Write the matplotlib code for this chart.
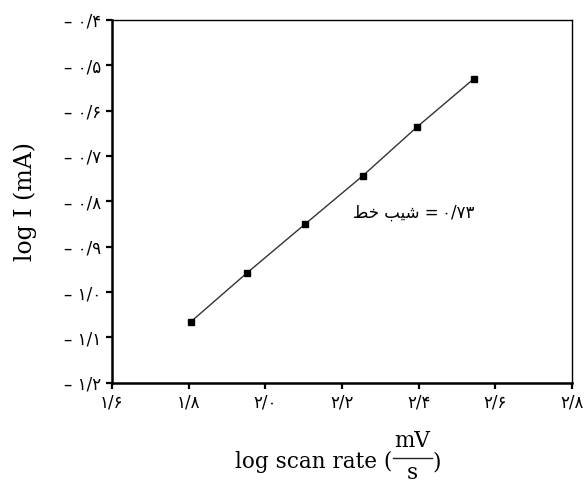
import matplotlib
matplotlib.use("Agg")
import matplotlib.pyplot as plt
from matplotlib.lines import Line2D
from matplotlib.ticker import FixedLocator, FuncFormatter

# log scan rate vs log peak current
log_rate = [1.805, 1.952, 2.104, 2.254, 2.396, 2.544]
log_i = [-1.066, -0.958, -0.850, -0.744, -0.636, -0.530]
slope = 0.73

x_ticks = [1.6, 1.8, 2.0, 2.2, 2.4, 2.6, 2.8]
y_ticks = [-0.4, -0.5, -0.6, -0.7, -0.8, -0.9, -1.0, -1.1, -1.2]

FA_DIGITS = str.maketrans('0123456789', '۰۱۲۳۴۵۶۷۸۹')
W, H = 586, 484


def fa(v, nd=1):
    s = f"{abs(v):.{nd}f}".replace('.', '/').translate(FA_DIGITS)
    return ('– ' + s) if v < 0 else s


def px(x, y):
    # pixel position (from top-left) -> figure fraction
    return x / W, 1 - y / H


fig = plt.figure(figsize=(W / 100, H / 100), dpi=100)
ax = fig.add_axes([0.191, 0.209, 0.785, 0.750])

ax.plot(log_rate, log_i, color='#333333', lw=1.0, marker='s', ms=5,
        mfc='black', mec='black')

ax.set_xlim(1.6, 2.8)
ax.set_ylim(-1.2, -0.4)
ax.xaxis.set_major_locator(FixedLocator(x_ticks))
ax.yaxis.set_major_locator(FixedLocator(y_ticks))
ax.xaxis.set_major_formatter(FuncFormatter(lambda v, p: fa(v)))
ax.yaxis.set_major_formatter(FuncFormatter(lambda v, p: fa(v)))
ax.tick_params(direction='out', length=4, width=1.6, labelsize=12,
               colors='black', pad=4)
for lab in ax.get_xticklabels() + ax.get_yticklabels():
    lab.set_family(['DejaVu Sans'])

for side in ['left', 'bottom']:
    ax.spines[side].set_linewidth(1.8)
for side in ['top', 'right']:
    ax.spines[side].set_linewidth(1.0)

# slope label, Persian words in shaped presentation forms
label = '\uFEC2\uFEA7 \uFE90\uFEF4\uFEB7 =\u2009' + fa(slope, 2)
ax.text(2.229, -0.824, label, fontsize=12, va='center', ha='left',
        family=['DejaVu Sans'])

ax.set_ylabel('log I (mA)', family='DejaVu Serif', fontsize=17, labelpad=19)

# x label with a stacked mV/s unit
lbl = dict(family='DejaVu Serif', fontsize=15.5, color='black')
fig.text(*px(392, 468), 'log scan rate (', ha='right', va='baseline', **lbl)
fig.text(*px(412.5, 447), 'mV', ha='center', va='baseline', **lbl)
fig.text(*px(412.5, 462), 's', ha='center', va='top', **lbl)
fig.text(*px(432, 468), ')', ha='left', va='baseline', **lbl)
x0, yr = px(393, 458)
x1, _ = px(432, 458)
fig.add_artist(Line2D([x0, x1], [yr, yr], transform=fig.transFigure,
                      lw=1.0, color='#222222'))

fig.savefig('out.png', dpi=100)
